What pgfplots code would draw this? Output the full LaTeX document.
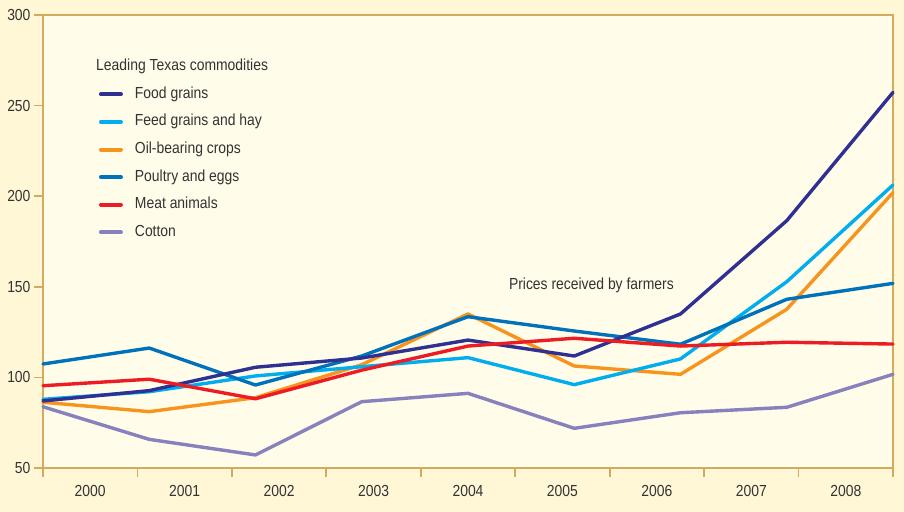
\documentclass[border=0pt]{standalone}
\usepackage{fontspec}
\setmainfont{Liberation Sans}[FakeStretch=0.87]
\usepackage{pgfplots}
\pgfplotsset{compat=1.18}
\definecolor{foodc}{HTML}{2E3192}
\definecolor{feedc}{HTML}{00AEEF}
\definecolor{oilc}{HTML}{F7941D}
\definecolor{poulc}{HTML}{0072BC}
\definecolor{meatc}{HTML}{ED1C24}
\definecolor{cottc}{HTML}{8781BD}
\definecolor{axisc}{HTML}{D4AA5E}
\definecolor{outerbg}{HTML}{FFF7D6}
\definecolor{innerbg}{HTML}{FFFCEA}
\definecolor{textc}{HTML}{333333}
\begin{document}
\begin{tikzpicture}
\fill[outerbg] (-43bp,-44bp) rectangle (861bp,468bp);
\useasboundingbox (-43bp,-44bp) rectangle (861bp,468bp);
\begin{axis}[
  at={(0,0)}, anchor=south west,
  scale only axis, width=850bp, height=453bp,
  xmin=0, xmax=8, ymin=50, ymax=300,
  axis background/.style={fill=innerbg},
  axis line style={draw=axisc, line width=1.8bp},
  xtick={0,0.88889,1.77778,2.66667,3.55556,4.44444,5.33333,6.22222,7.11111,8},
  xticklabels={2000,2001,2002,2003,2004,2005,2006,2007,2008},
  x tick label as interval,
  ytick={50,100,150,200,250,300},
  xtick pos=lower, ytick pos=left,
  tick align=outside, major tick length=9bp,
  tick style={draw=axisc, line width=1.8bp},
  tick label style={font=\fontsize{16bp}{18bp}\selectfont, text=textc},
  xticklabel style={yshift=-5bp},
  /pgf/number format/assume math mode=true,
  /pgf/number format/1000 sep={},
  clip=false,
  every axis plot/.append style={line width=3.4bp, line join=round, line cap=round},
  legend cell align=left,
  legend image code/.code={\draw[#1, line width=4bp, line cap=round] (0bp,0bp) -- (20bp,0bp);},
  legend style={at={(rel axis cs:0.0656,0.843)}, anchor=north west, draw=none, fill=none,
    inner sep=0pt, row sep=11.6bp, column sep=12bp,
    font=\fontsize{16bp}{18bp}\selectfont, text=textc,
    nodes={inner sep=0pt, text height=12bp, text depth=4bp}},
]
\addlegendimage{foodc}\addlegendentry{Food grains}
\addlegendimage{feedc}\addlegendentry{Feed grains and hay}
\addlegendimage{oilc}\addlegendentry{Oil-bearing crops}
\addlegendimage{poulc}\addlegendentry{Poultry and eggs}
\addlegendimage{meatc}\addlegendentry{Meat animals}
\addlegendimage{cottc}\addlegendentry{Cotton}

\addplot[cottc, forget plot] coordinates {(0,83.8) (1,65.8) (2,57.2) (3,86.6) (4,91.2) (5,71.9) (6,80.5) (7,83.5) (8,101.7)};
\addplot[oilc, forget plot] coordinates {(0,86.3) (1,81.1) (2,88.8) (3,107) (4,135) (5,106.3) (6,101.7) (7,137.6) (8,202)};
\addplot[feedc, forget plot] coordinates {(0,87.9) (1,92.1) (2,100.8) (3,105.9) (4,110.9) (5,96) (6,110.2) (7,152.8) (8,206.2)};
\addplot[poulc, forget plot] coordinates {(0,107.4) (1,116.2) (2,95.8) (3,111.8) (4,133.5) (5,125.6) (6,118.3) (7,143.1) (8,151.9)};
\addplot[foodc, forget plot] coordinates {(0,87) (1,92.7) (2,105.6) (3,110.7) (4,120.6) (5,111.8) (6,135) (7,186.5) (8,257.3)};
\addplot[meatc, forget plot] coordinates {(0,95.4) (1,99) (2,88.2) (3,104) (4,117.3) (5,121.6) (6,117.3) (7,119.4) (8,118.4)};

\node[anchor=base west, inner sep=0pt, text=textc, font=\fontsize{16bp}{18bp}\selectfont] at (rel axis cs:0.0624,0.877) {Leading Texas commodities};
\node[anchor=west, inner sep=0pt, text=textc, font=\fontsize{16bp}{18bp}\selectfont] at (rel axis cs:0.548,0.404) {Prices received by farmers};
\end{axis}
\end{tikzpicture}
\end{document}
